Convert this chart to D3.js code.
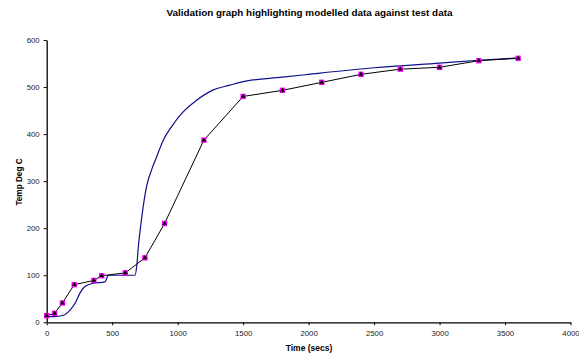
<html>
<head>
<meta charset="utf-8">
<script src="https://d3js.org/d3.v7.min.js"></script>
<style>
  body { margin: 0; background: #fff; }
  svg { font-family: "Liberation Sans", Arial, sans-serif; }
</style>
</head>
<body>
<svg id="chart" width="579" height="354"></svg>
<script>
// test data (measured points)
var testTime = [0, 60, 120, 210, 360, 420, 600, 750, 900, 1200, 1500, 1800, 2100, 2400, 2700, 3000, 3300, 3600];
var testTemp = [14, 19, 41, 80, 89, 99, 105, 137, 210, 387, 480, 493, 510, 527, 538, 542, 556, 561];

// modelled curve
var modelTime = [0, 60, 127, 178, 216, 254, 292, 356, 445, 458, 466, 480, 674, 687, 700, 717, 737, 762, 801, 840, 890, 954, 1031, 1145, 1272, 1399, 1476, 1800, 2000, 2500, 3000, 3300, 3600];
var modelTemp = [12, 12, 15, 26, 40, 62, 76, 83, 86, 93, 99, 100, 100, 118, 161, 203, 246, 288, 324, 352, 387, 416, 444, 472, 494, 504, 510, 521, 527, 541, 551, 557, 562];

var xTicks = [0, 500, 1000, 1500, 2000, 2500, 3000, 3500, 4000];
var yTicks = [0, 100, 200, 300, 400, 500, 600];

var svg = d3.select('#chart');
var plotL = 46.7, plotR = 570.5, plotT = 40, plotB = 322.3;

var x = d3.scaleLinear().domain([0, 4000]).range([plotL, plotR]);
var y = d3.scaleLinear().domain([0, 600]).range([plotB, plotT]);

// axes
var xAxis = svg.append('g')
    .attr('transform', 'translate(0,' + plotB + ')')
    .call(d3.axisBottom(x).tickValues(xTicks).tickFormat(d3.format('d')).tickSize(3).tickSizeOuter(0).tickPadding(5));
var yAxis = svg.append('g')
    .attr('transform', 'translate(' + plotL + ',0)')
    .call(d3.axisLeft(y).tickValues(yTicks).tickFormat(d3.format('d')).tickSize(3).tickSizeOuter(0).tickPadding(4));

[xAxis, yAxis].forEach(function(a) {
    a.select('.domain').attr('stroke', '#000').attr('stroke-width', 1.3);
    a.selectAll('.tick line').attr('stroke', '#000');
    a.selectAll('.tick text').attr('fill', '#222').style('font-size', '7.8px')
        .style('font-family', '"Liberation Sans", Arial, sans-serif');
});

// model line
var modelData = modelTime.map(function(t, i) { return [t, modelTemp[i]]; });
svg.append('path')
    .datum(modelData)
    .attr('fill', 'none')
    .attr('stroke', '#10108a')
    .attr('stroke-width', 1.2)
    .attr('d', d3.line().x(function(d) { return x(d[0]); }).y(function(d) { return y(d[1]); }).curve(d3.curveMonotoneX));

// test line
var testData = testTime.map(function(t, i) { return [t, testTemp[i]]; });
svg.append('path')
    .datum(testData)
    .attr('fill', 'none')
    .attr('stroke', '#000')
    .attr('stroke-width', 1)
    .attr('d', d3.line().x(function(d) { return x(d[0]); }).y(function(d) { return y(d[1]); }));

// markers: magenta square with black triangle
svg.selectAll('rect.sq')
    .data(testData)
    .enter().append('rect')
    .attr('class', 'sq')
    .attr('x', function(d) { return x(d[0]) - 2.7; })
    .attr('y', function(d) { return y(d[1]) - 2.7; })
    .attr('width', 5.4)
    .attr('height', 5.4)
    .attr('fill', '#ff00ff');

svg.selectAll('path.tri')
    .data(testData)
    .enter().append('path')
    .attr('class', 'tri')
    .attr('transform', function(d) { return 'translate(' + x(d[0]) + ',' + y(d[1]) + ')'; })
    .attr('d', d3.symbol().type(d3.symbolTriangle).size(10))
    .attr('fill', '#000');

// title & labels
svg.append('text')
    .attr('x', 309.5).attr('y', 15.5)
    .attr('text-anchor', 'middle')
    .style('font-size', '9.9px').style('font-weight', 'bold')
    .text('Validation graph highlighting modelled data against test data');

svg.append('text')
    .attr('x', 309).attr('y', 351)
    .attr('text-anchor', 'middle')
    .style('font-size', '8.5px').style('font-weight', 'bold')
    .text('Time (secs)');

svg.append('text')
    .attr('transform', 'translate(21.5,182) rotate(-90)')
    .attr('text-anchor', 'middle')
    .style('font-size', '8.2px').style('font-weight', 'bold')
    .text('Temp Deg C');
</script>
</body>
</html>
